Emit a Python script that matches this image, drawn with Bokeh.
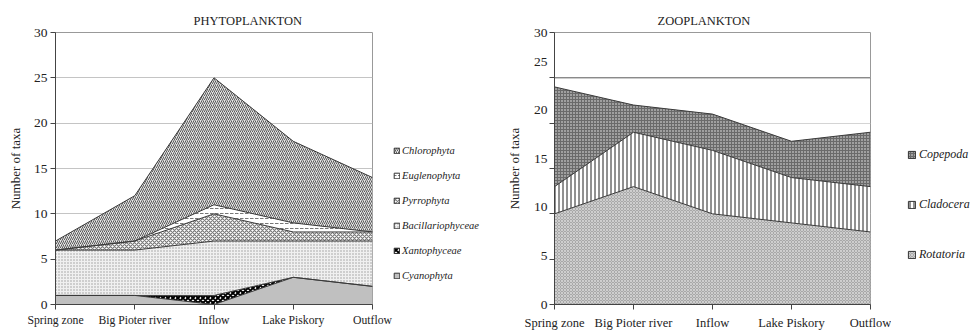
import numpy as np
from bokeh.plotting import figure
from bokeh.models import Range1d, FixedTicker, LinearAxis, Legend, LegendItem, Span
from bokeh.layouts import row
from bokeh.embed import file_html
from bokeh.resources import INLINE

# ---------------- data ----------------
sites = ["Spring zone", "Big Pioter river", "Inflow", "Lake Piskory", "Outflow"]

phyto_groups = ["Cyanophyta", "Xantophyceae", "Bacillariophyceae",
                "Pyrrophyta", "Euglenophyta", "Chlorophyta"]
cyanophyta = [1, 1, 0, 3, 2]
xantophyceae = [0, 0, 1, 0, 0]
bacillariophyceae = [5, 5, 6, 4, 5]
pyrrophyta = [0, 1, 3, 1, 1]
euglenophyta = [0, 0, 1, 1, 0]
chlorophyta = [1, 5, 14, 9, 6]

zoo_groups = ["Rotatoria", "Cladocera", "Copepoda"]
rotatoria = [10, 13, 10, 9, 8]
cladocera = [3, 6, 7, 5, 5]
copepoda = [11, 3, 4, 4, 6]

y_ticks = [0, 5, 10, 15, 20, 25, 30]
y_tick_labels = ["0", "5", "10", "15", "20", "25", "30"]

FONT = "Liberation Serif"
TXT = "#222222"
H = 332
xs = list(range(len(sites)))


def base_fig(width, left, right, title, title_offset, xstand, xfont):
    p = figure(width=width, height=H, x_range=Range1d(0, len(sites) - 1),
               y_range=Range1d(0, 30), output_backend="svg",
               toolbar_location=None, min_border_left=left,
               min_border_right=right, min_border_top=32, min_border_bottom=26)
    p.title.text = title
    p.title.align = "left"
    p.title.offset = title_offset
    p.title.text_font = FONT
    p.title.text_font_style = "normal"
    p.title.text_font_size = "12.5px"
    p.title.text_color = TXT
    p.outline_line_color = "#999999"
    p.background_fill_color = "white"
    p.border_fill_color = "white"
    p.xgrid.visible = False
    p.ygrid.ticker = FixedTicker(ticks=y_ticks)
    p.ygrid.grid_line_color = "#c4c4c4"

    xa = p.xaxis[0]
    xa.ticker = FixedTicker(ticks=xs)
    xa.major_label_overrides = {i: s for i, s in enumerate(sites)}
    xa.major_label_text_font = FONT
    xa.major_label_text_font_size = xfont
    xa.major_label_text_color = TXT
    xa.major_label_standoff = xstand
    xa.major_tick_out = 5
    xa.major_tick_in = 0
    xa.minor_tick_out = 0
    xa.axis_line_color = "#444444"
    xa.major_tick_line_color = "#444444"
    return p


def draw_stack(p, layers, styles):
    base = np.zeros(len(sites))
    tops = []
    for vals, st in zip(layers, styles):
        top = base + np.array(vals, dtype=float)
        p.varea(x=xs, y1=base, y2=top, **st)
        tops.append(top)
        base = top
    for top in tops:
        p.line(xs, top, line_color="#3a3a3a", line_width=1)


def legend_fig(width, names, layers, styles, loc, font_size, spacing, glyph, stand):
    # the legend lives in its own narrow figure; its swatch renderers use the
    # real series but sit outside this figure's visible range
    q = figure(width=width, height=H, x_range=Range1d(-20, -19), y_range=Range1d(-20, -19),
               output_backend="svg", toolbar_location=None, min_border=0,
               min_border_left=0, min_border_right=0, min_border_top=0,
               min_border_bottom=0)
    q.axis.visible = False
    q.grid.visible = False
    q.outline_line_color = None
    rends = [q.varea(x=xs, y1=[0] * len(sites), y2=vals, **st)
             for vals, st in zip(layers, styles)]
    frame_r = q.quad(left=xs[:1], right=xs[1:2], bottom=[0], top=[1],
                     fill_alpha=0, line_color="#333333", line_width=1)
    items = [LegendItem(label=n, renderers=[r, frame_r])
             for n, r in zip(names, rends)][::-1]
    lg = Legend(items=items, location=loc, orientation="vertical")
    lg.label_text_font = FONT
    lg.label_text_font_style = "italic"
    lg.label_text_font_size = font_size
    lg.label_text_color = TXT
    lg.glyph_width = glyph
    lg.glyph_height = glyph
    lg.label_height = 13
    lg.spacing = spacing
    lg.padding = 0
    lg.margin = 0
    lg.label_standoff = stand
    lg.border_line_color = None
    lg.background_fill_alpha = 0
    q.add_layout(lg)
    return q


# ---------------- phytoplankton ----------------
p1 = base_fig(393, 55, 21, "PHYTOPLANKTON", 138, 4, "11.7px")
ya = p1.yaxis[0]
ya.ticker = FixedTicker(ticks=y_ticks)
ya.major_label_text_font = FONT
ya.major_label_text_font_size = "13.5px"
ya.major_label_text_color = TXT
ya.major_label_standoff = 3
ya.major_tick_out = 5
ya.major_tick_in = 0
ya.minor_tick_out = 0
ya.minor_tick_in = 0
ya.axis_line_color = "#444444"
ya.major_tick_line_color = "#444444"
ya.axis_label = "Number of taxa"
ya.axis_label_text_font = FONT
ya.axis_label_text_font_style = "normal"
ya.axis_label_text_font_size = "13px"
ya.axis_label_text_color = TXT
ya.axis_label_standoff = 8

phyto_styles = [
    dict(fill_color="#c0c0c0"),
    dict(fill_color="white", hatch_pattern="diagonal_cross", hatch_color="black",
         hatch_scale=5, hatch_weight=2),
    dict(fill_color="#f0f0f0", hatch_pattern="dot", hatch_color="#9a9a9a",
         hatch_scale=3, hatch_weight=1),
    dict(fill_color="white", hatch_pattern="diagonal_cross", hatch_color="#7a7a7a",
         hatch_scale=4, hatch_weight=1.2),
    dict(fill_color="white", hatch_pattern="horizontal_dash", hatch_color="#777777",
         hatch_scale=5, hatch_weight=1),
    dict(fill_color="#e4e4e4", hatch_pattern="right_diagonal_line", hatch_color="#5a5a5a",
         hatch_scale=4, hatch_weight=1),
]
phyto_layers = [cyanophyta, xantophyceae, bacillariophyceae, pyrrophyta,
                euglenophyta, chlorophyta]
draw_stack(p1, phyto_layers, phyto_styles)
l1 = legend_fig(95, phyto_groups, phyto_layers, phyto_styles, (0, 22), "10.5px", 12, 7, 2)

# ---------------- zooplankton ----------------
p2 = base_fig(403, 66, 21, "ZOOPLANKTON", 103, 6, "12.5px")
p2.ygrid.grid_line_color = "#d4d4d4"
ya2 = p2.yaxis[0]
ya2.ticker = FixedTicker(ticks=y_ticks)
ya2.major_label_overrides = {t: "" for t in y_ticks}
ya2.major_label_standoff = 0
ya2.major_tick_out = 5
ya2.major_tick_in = 0
ya2.minor_tick_out = 0
ya2.minor_tick_in = 0
ya2.axis_line_color = "#444444"
ya2.major_tick_line_color = "#444444"

# the printed tick labels sit on a slightly different scale than the ticks
p2.extra_y_ranges = {"lbl": Range1d(0, 28)}
lab_ticks = [0, 5, 10, 15, 20, 25, 28]
lab = LinearAxis(y_range_name="lbl", ticker=FixedTicker(ticks=lab_ticks),
                 major_label_overrides={t: s for t, s in zip(lab_ticks, y_tick_labels)})
lab.major_tick_out = 0
lab.major_tick_in = 0
lab.minor_tick_out = 0
lab.minor_tick_in = 0
lab.axis_line_color = None
lab.major_label_text_font = FONT
lab.major_label_text_font_size = "13.5px"
lab.major_label_text_color = TXT
lab.major_label_standoff = 2
lab.axis_label = "Number of taxa"
lab.axis_label_text_font = FONT
lab.axis_label_text_font_style = "normal"
lab.axis_label_text_font_size = "13px"
lab.axis_label_text_color = TXT
lab.axis_label_standoff = 9
p2.add_layout(lab, "left")

p2.add_layout(Span(location=25, dimension="width", line_color="#666666", line_width=1))

zoo_styles = [
    dict(fill_color="#a8a8a8", hatch_pattern="diagonal_cross", hatch_color="#d8d8d8",
         hatch_scale=3, hatch_weight=0.8),
    dict(fill_color="white", hatch_pattern="vertical_line", hatch_color="#222222",
         hatch_scale=4, hatch_weight=1),
    dict(fill_color="#6a6a6a", hatch_pattern="dot", hatch_color="#f0f0f0",
         hatch_scale=3, hatch_weight=1),
]
zoo_layers = [rotatoria, cladocera, copepoda]
draw_stack(p2, zoo_layers, zoo_styles)
l2 = legend_fig(81, zoo_groups, zoo_layers, zoo_styles, (16, 42), "12px", 35, 9, 3)

layout = row(p1, l1, p2, l2)
open("out.html", "w").write(file_html(layout, INLINE))
